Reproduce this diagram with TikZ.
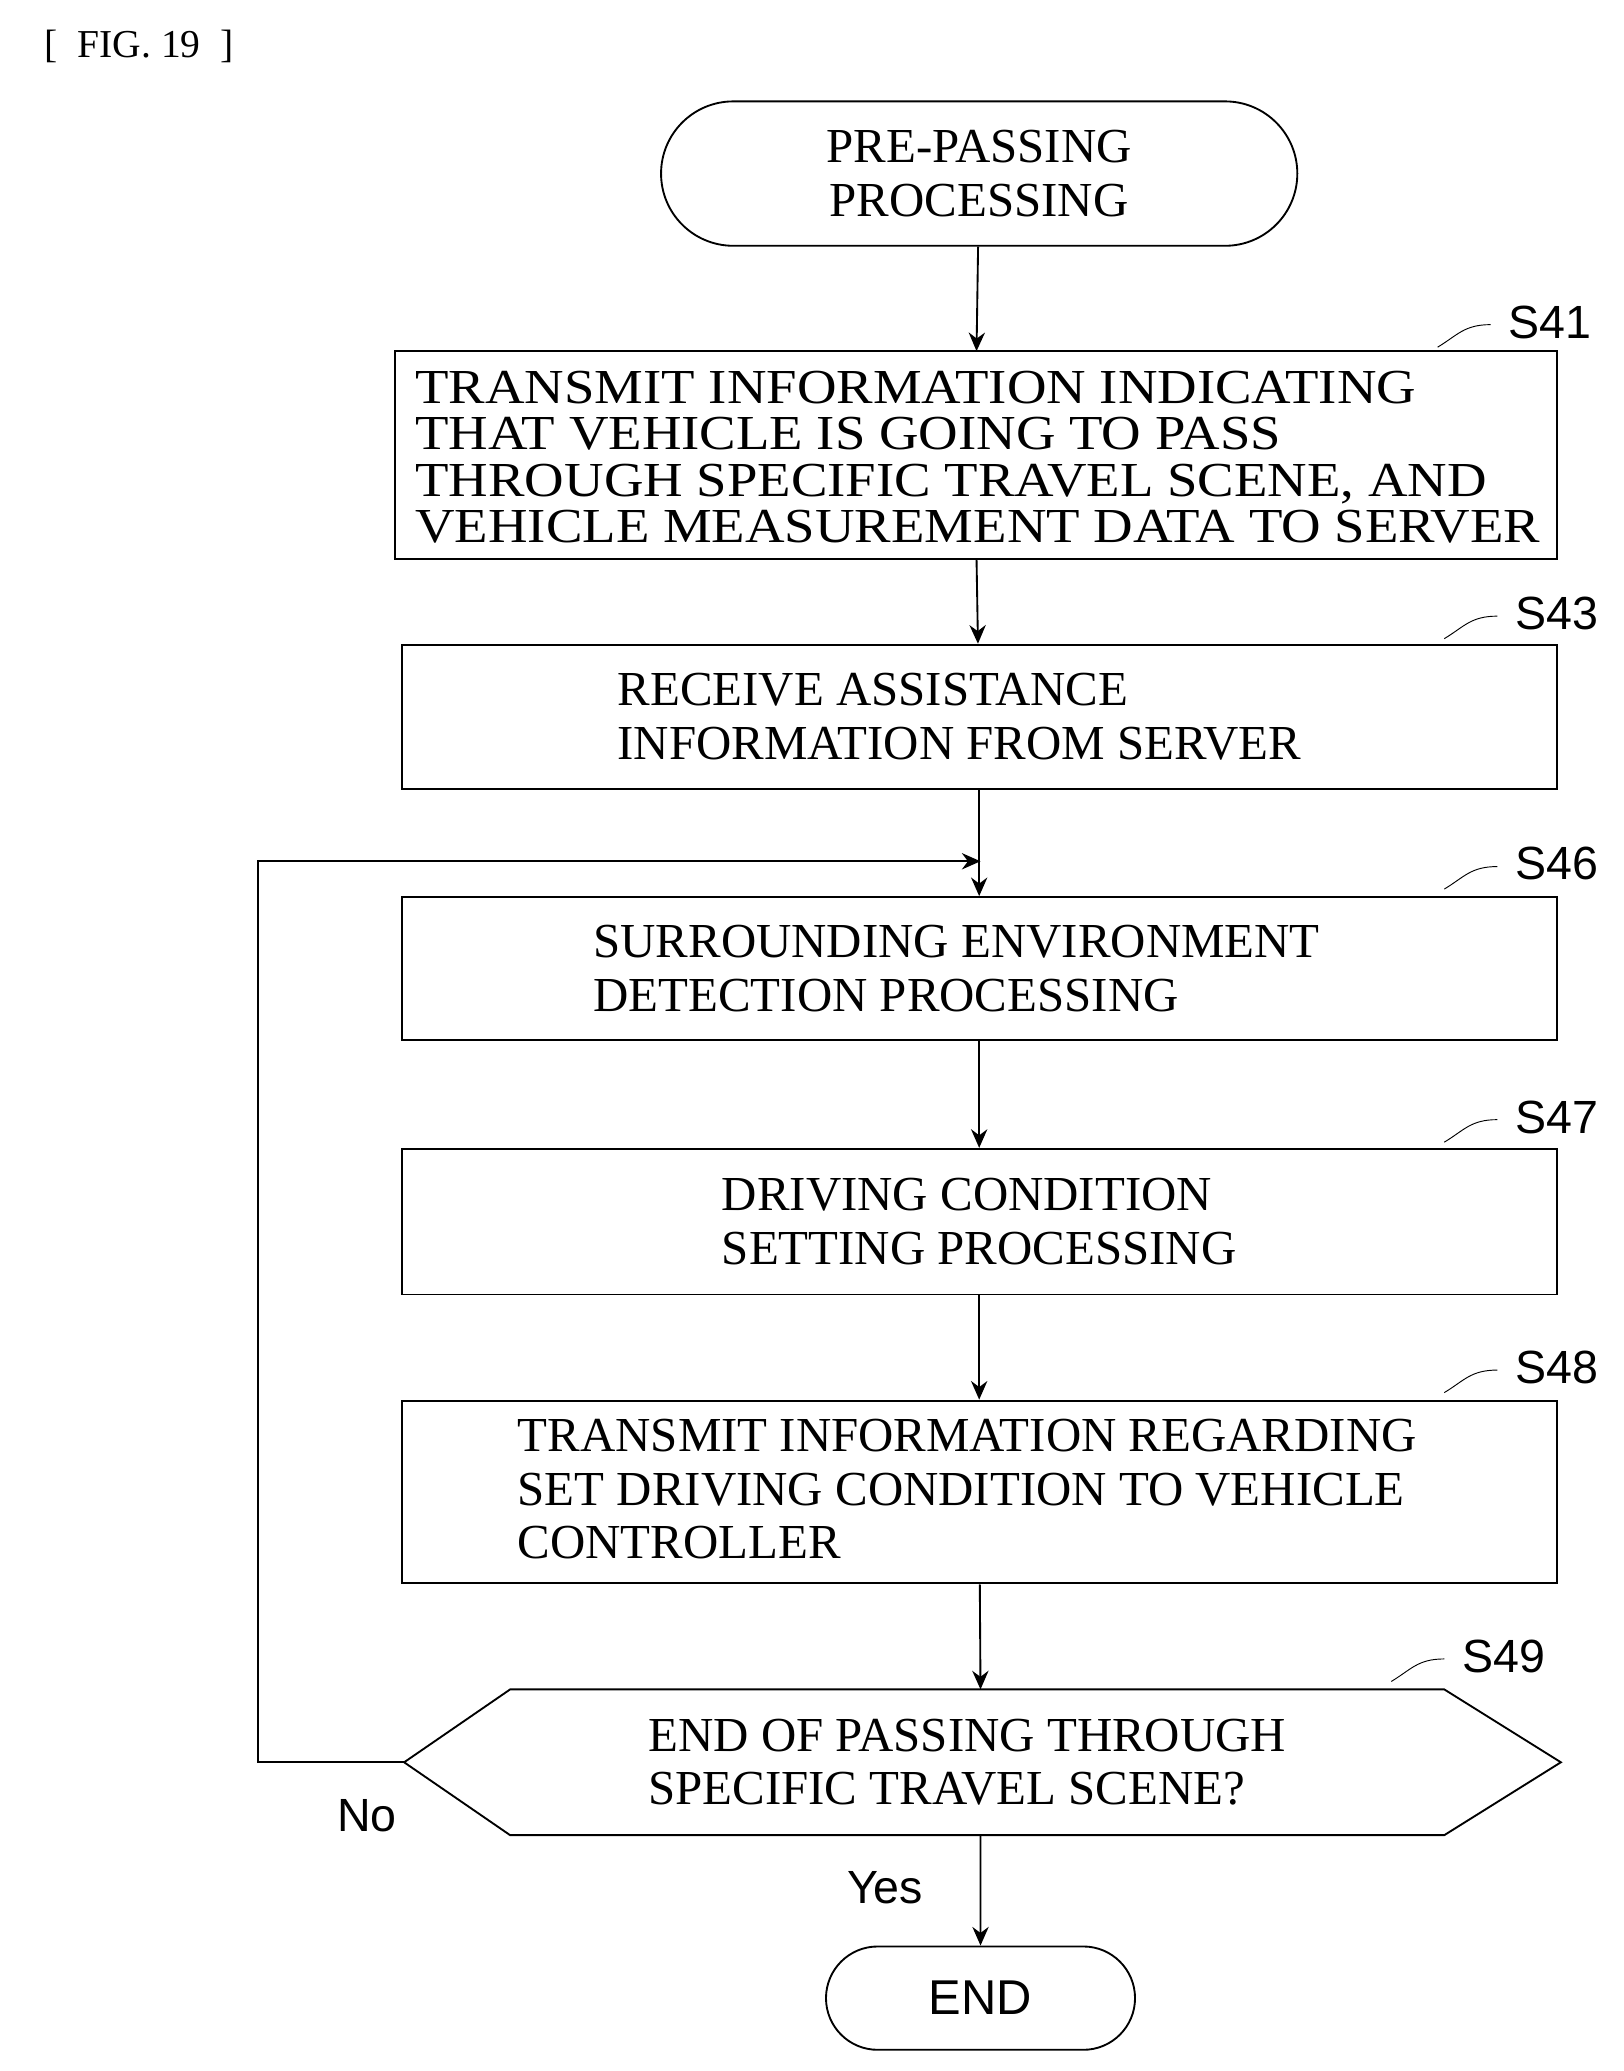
\documentclass[tikz,border=0pt]{standalone}
\usepackage{fontspec}
\setmainfont{Liberation Serif}
\newfontfamily\lblfont{Liberation Sans}
\usetikzlibrary{positioning,shapes.misc,arrows.meta}
\begin{document}
\begin{tikzpicture}[x=0.02cm,y=-0.02cm,
  term/.style={draw,thick,rounded rectangle,font=\fontsize{21}{23}\selectfont,align=center},
  txt/.style={font=\fontsize{21}{23}\selectfont,align=left},
  steplbl/.style={font=\lblfont\fontsize{20}{22}\selectfont},
  arr/.style={thick,-{Stealth[length=8pt,width=7pt]}}]
\useasboundingbox (0,0) rectangle (1225,1563);
\node[font=\fontsize{17}{19}\selectfont] (fig) at (105,35) {[\ \ FIG. 19\ \ ]};

% flow boxes
\node[term,minimum width=9.84cm,minimum height=2.18cm] (start) at (739,131) {PRE-PASSING\\PROCESSING};
\draw[thick] (298,265) rectangle (1175,422);
\node[txt,font=\fontsize{21}{20}\selectfont,xscale=1.12,transform shape] (s41) at (738,345) {TRANSMIT INFORMATION INDICATING\\THAT VEHICLE IS GOING TO PASS\\THROUGH SPECIFIC TRAVEL SCENE, AND\\VEHICLE MEASUREMENT DATA TO SERVER};
\coordinate (s41t) at (737,265); \coordinate (s41b) at (737,422);
\node[draw,thick,minimum width=17.44cm,minimum height=2.18cm] (b43) at (739,541) {};
\node[txt] at (724,541) {RECEIVE ASSISTANCE\\INFORMATION FROM SERVER};
\node[draw,thick,minimum width=17.44cm,minimum height=2.16cm] (b46) at (739,731) {};
\node[txt] at (722,731) {SURROUNDING ENVIRONMENT\\DETECTION PROCESSING};
\node[draw,thick,minimum width=17.44cm,minimum height=2.2cm] (b47) at (739,922) {};
\node[txt] at (739,922) {DRIVING CONDITION\\SETTING PROCESSING};
\node[draw,thick,minimum width=17.44cm,minimum height=2.76cm] (b48) at (739,1126) {};
\node[txt] at (730,1124) {TRANSMIT INFORMATION REGARDING\\SET DRIVING CONDITION TO VEHICLE\\CONTROLLER};
\draw[thick] (305,1330) -- (385,1275) -- (1090,1275) -- (1178,1330) -- (1090,1385) -- (385,1385) -- cycle;
\coordinate (d49t) at (740,1275); \coordinate (d49b) at (740,1385); \coordinate (d49l) at (305,1330);
\node[txt] (d49) at (730,1330) {END OF PASSING THROUGH\\SPECIFIC TRAVEL SCENE?};
\node[term,minimum width=4.9cm,minimum height=1.56cm,font=\lblfont\fontsize{21}{23}\selectfont] (end) at (740,1508) {END};

% step labels
\foreach \n/\x/\y in {S41/1170/243,S43/1175/463,S46/1175/652,S47/1175/843,S48/1175/1032,S49/1135/1250}{
  \node[steplbl] at (\x,\y) {\n};
  \draw (\x-85,\y+19) .. controls (\x-70,\y+10) and (\x-65,\y+2) .. (\x-45,\y+2);
}

% connectors
\draw[arr] (start) -- (s41t);
\draw[arr] (s41b) -- (b43);
\draw[arr] (b43) -- (b46);
\draw[arr] (b46) -- (b47);
\draw[arr] (b47) -- (b48);
\draw[arr] (b48) -- (d49t);
\draw[arr] (d49b) -- (end);
\coordinate (loop) at (740,650);
\draw[arr] (d49l) -- (195,1330) -- (195,650) -- (loop);
\node[steplbl] at (277,1370) {No};
\node[steplbl] at (668,1425) {Yes};
\end{tikzpicture}
\end{document}
